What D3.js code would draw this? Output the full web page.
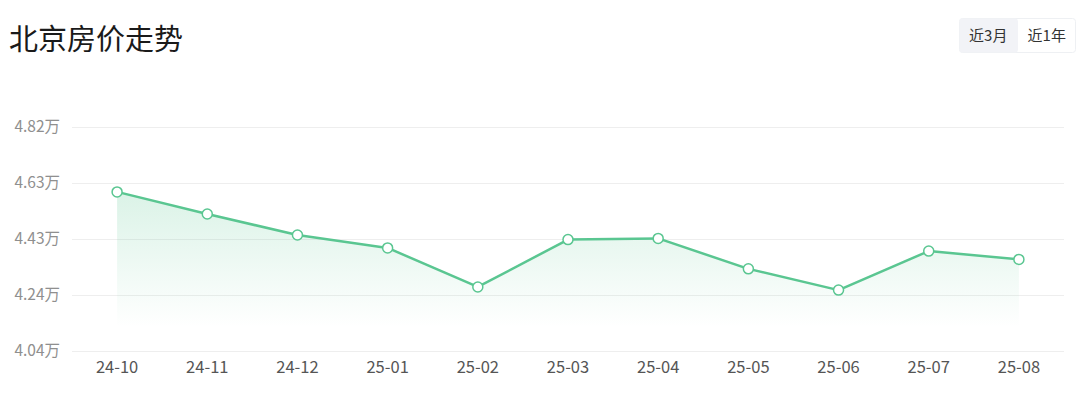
<!DOCTYPE html>
<html>
<head>
<meta charset="utf-8">
<script src="https://cdn.jsdelivr.net/npm/d3@7/dist/d3.min.js"></script>
<style>
  html, body { margin: 0; padding: 0; background: #fff; }
  svg { display: block; font-family: "Noto Sans CJK SC", "Noto Sans", sans-serif; }
</style>
</head>
<body>
<svg id="chart" width="1080" height="398"></svg>
<script>
// ── Data
const months = ["24-10", "24-11", "24-12", "25-01", "25-02", "25-03", "25-04", "25-05", "25-06", "25-07", "25-08"];
const prices = [4.594, 4.517, 4.444, 4.399, 4.263, 4.428, 4.432, 4.326, 4.252, 4.388, 4.359];
const tickValues = [4.04, 4.235, 4.43, 4.625, 4.82];
const tickLabels = ["4.04万", "4.24万", "4.43万", "4.63万", "4.82万"];
const rangeButtons = ["近3月", "近1年"];

const W = 1080, H = 398;
const margin = { top: 127, right: 16, bottom: 47, left: 72 };
const green = "#5ac691";

const svg = d3.select("#chart");

// ── Title
svg.append("text")
  .attr("x", 9).attr("y", 50)
  .attr("font-size", 29)
  .attr("fill", "#1a1a1a")
  .text("北京房价走势");

// ── Range toggle
const btnX = d3.scaleBand().domain(rangeButtons).range([959, 1076]);
const btn = svg.append("g");
btn.append("rect")
  .attr("x", 959.5).attr("y", 18.5).attr("width", 116).attr("height", 34)
  .attr("rx", 3).attr("fill", "#fff").attr("stroke", "#eef0f3");
btn.append("rect")
  .attr("x", 959.5).attr("y", 18.5).attr("width", btnX.bandwidth()).attr("height", 34)
  .attr("rx", 3).attr("fill", "#f2f3f7");
btn.selectAll("text").data(rangeButtons).join("text")
  .attr("x", d => btnX(d) + btnX.bandwidth() / 2)
  .attr("y", 41)
  .attr("text-anchor", "middle")
  .attr("font-size", 15)
  .attr("fill", "#333")
  .text(d => d);

// ── Scales
const x = d3.scaleBand().domain(months).range([margin.left, W - margin.right]);
const y = d3.scaleLinear().domain([4.04, 4.82]).range([H - margin.bottom, margin.top]);
const cx = d => x(d) + x.bandwidth() / 2;

// ── Grid + y labels
const yAxis = svg.append("g")
  .attr("transform", `translate(${margin.left},0)`)
  .call(d3.axisLeft(y).tickValues(tickValues)
    .tickSize(-(W - margin.left - margin.right))
    .tickPadding(12)
    .tickFormat((d, i) => tickLabels[i]));
yAxis.select(".domain").remove();
yAxis.selectAll(".tick line").attr("stroke", "#eeeeee");
yAxis.selectAll(".tick text")
  .attr("font-size", 15.5).attr("fill", "#8f8f8f")
  .attr("font-family", "'Noto Sans CJK SC', sans-serif");

// ── X axis labels
const xAxis = svg.append("g")
  .attr("transform", `translate(0,${H - margin.bottom})`)
  .call(d3.axisBottom(x).tickSize(0).tickPadding(10));
xAxis.select(".domain").remove();
xAxis.selectAll(".tick text")
  .attr("font-size", 16.5).attr("fill", "#555")
  .attr("font-family", "'Noto Sans CJK SC', sans-serif");

// ── Area gradient
const grad = svg.append("defs").append("linearGradient")
  .attr("id", "areaFill")
  .attr("gradientUnits", "userSpaceOnUse")
  .attr("x1", 0).attr("x2", 0)
  .attr("y1", y(d3.max(prices))).attr("y2", H - margin.bottom);
grad.append("stop").attr("offset", 0).attr("stop-color", green).attr("stop-opacity", 0.22);
grad.append("stop").attr("offset", 0.85).attr("stop-color", green).attr("stop-opacity", 0);

const series = months.map((m, i) => ({ m, v: prices[i] }));

svg.append("path")
  .datum(series)
  .attr("fill", "url(#areaFill)")
  .attr("d", d3.area().x(d => cx(d.m)).y0(H - margin.bottom).y1(d => y(d.v)));

svg.append("path")
  .datum(series)
  .attr("fill", "none")
  .attr("stroke", green)
  .attr("stroke-width", 2.5)
  .attr("stroke-linejoin", "round")
  .attr("d", d3.line().x(d => cx(d.m)).y(d => y(d.v)));

svg.append("g").selectAll("circle").data(series).join("circle")
  .attr("cx", d => cx(d.m))
  .attr("cy", d => y(d.v))
  .attr("r", 5)
  .attr("fill", "#fff")
  .attr("stroke", green)
  .attr("stroke-width", 1.5);
</script>
</body>
</html>
